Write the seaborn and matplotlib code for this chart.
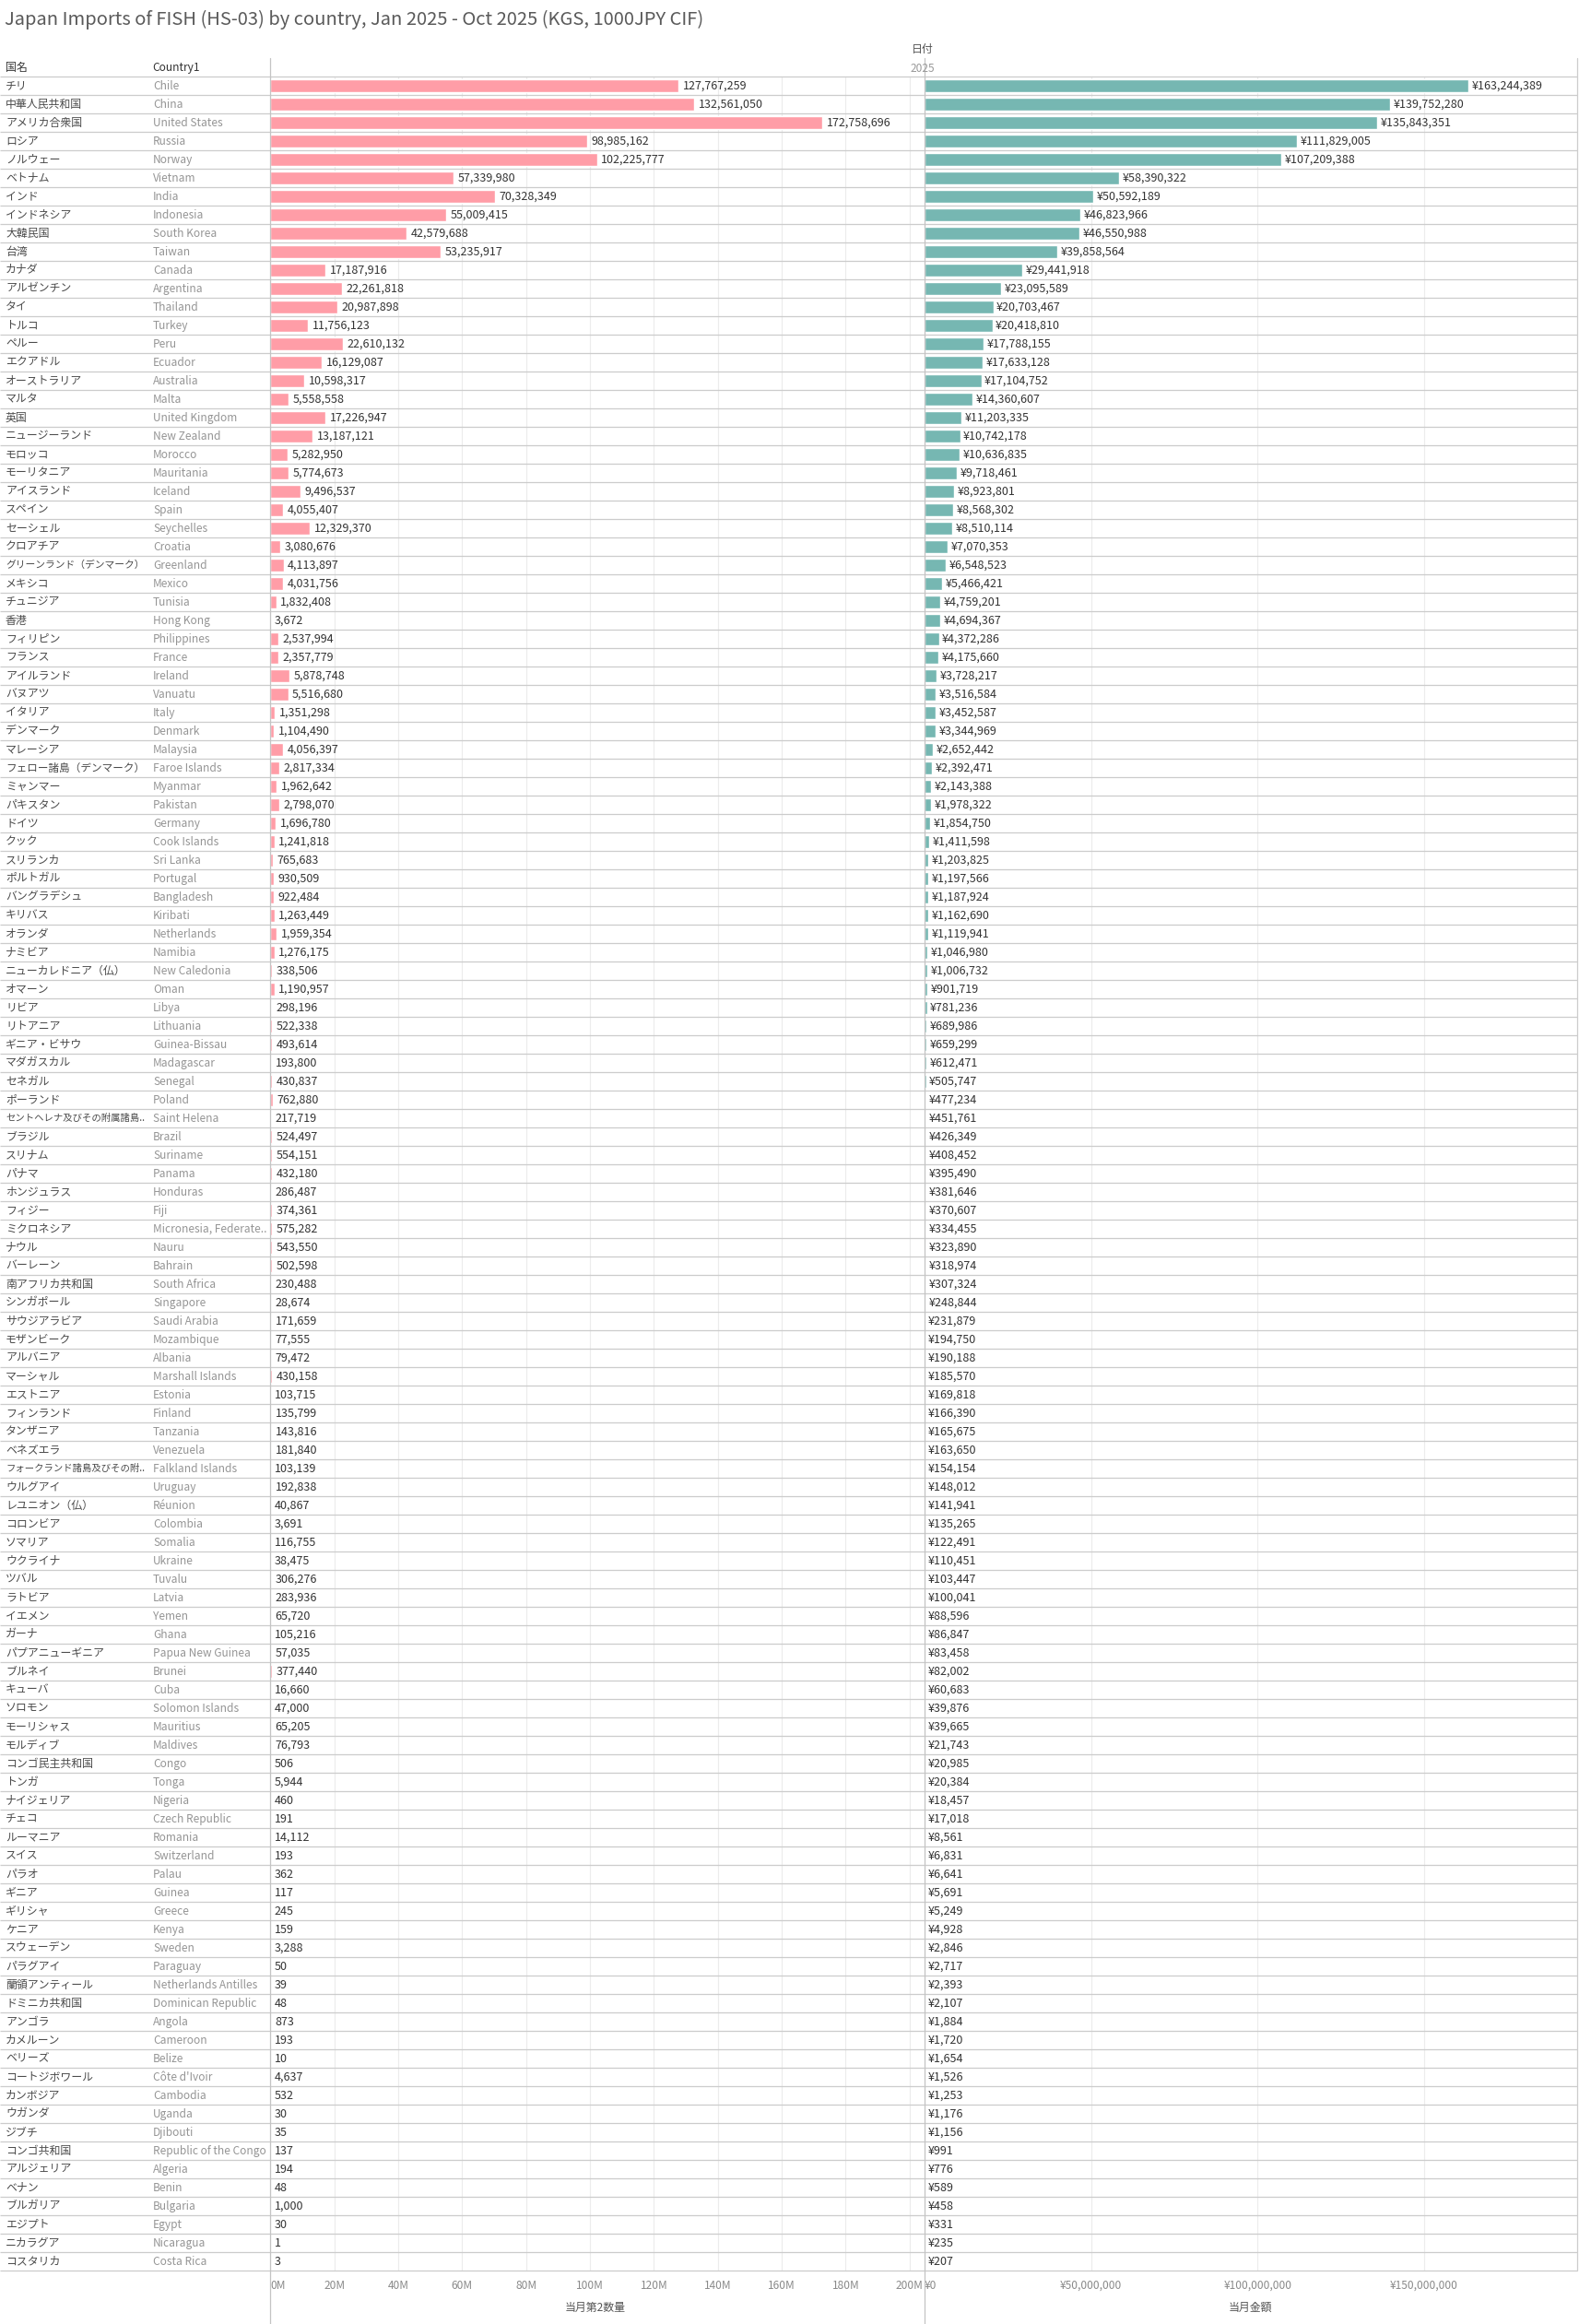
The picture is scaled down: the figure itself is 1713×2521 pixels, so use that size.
import matplotlib
matplotlib.use("Agg")
import matplotlib.pyplot as plt
import matplotlib.transforms as mtransforms
import seaborn as sns
import pandas as pd

# Data
jp_names = [
    "チリ", "中華人民共和国", "アメリカ合衆国", "ロシア", "ノルウェー", "ベトナム", "インド", "インドネシア",
    "大韓民国", "台湾", "カナダ", "アルゼンチン", "タイ", "トルコ", "ペルー", "エクアドル", "オーストラリア",
    "マルタ", "英国", "ニュージーランド", "モロッコ", "モーリタニア", "アイスランド", "スペイン", "セーシェル",
    "クロアチア", "グリーンランド（デンマーク）", "メキシコ", "チュニジア", "香港", "フィリピン", "フランス",
    "アイルランド", "バヌアツ", "イタリア", "デンマーク", "マレーシア", "フェロー諸島（デンマーク）", "ミャンマー",
    "パキスタン", "ドイツ", "クック", "スリランカ", "ポルトガル", "バングラデシュ", "キリバス", "オランダ",
    "ナミビア", "ニューカレドニア（仏）", "オマーン", "リビア", "リトアニア", "ギニア・ビサウ", "マダガスカル",
    "セネガル", "ポーランド", "セントヘレナ及びその附属諸島..", "ブラジル", "スリナム", "パナマ", "ホンジュラス",
    "フィジー", "ミクロネシア", "ナウル", "バーレーン", "南アフリカ共和国", "シンガポール", "サウジアラビア",
    "モザンビーク", "アルバニア", "マーシャル", "エストニア", "フィンランド", "タンザニア", "ベネズエラ",
    "フォークランド諸島及びその附..", "ウルグアイ", "レユニオン（仏）", "コロンビア", "ソマリア", "ウクライナ",
    "ツバル", "ラトビア", "イエメン", "ガーナ", "パプアニューギニア", "ブルネイ", "キューバ", "ソロモン",
    "モーリシャス", "モルディブ", "コンゴ民主共和国", "トンガ", "ナイジェリア", "チェコ", "ルーマニア", "スイス",
    "パラオ", "ギニア", "ギリシャ", "ケニア", "スウェーデン", "パラグアイ", "蘭領アンティール", "ドミニカ共和国",
    "アンゴラ", "カメルーン", "ベリーズ", "コートジボワール", "カンボジア", "ウガンダ", "ジブチ", "コンゴ共和国",
    "アルジェリア", "ベナン", "ブルガリア", "エジプト", "ニカラグア", "コスタリカ",
]

en_names = [
    "Chile", "China", "United States", "Russia", "Norway", "Vietnam", "India", "Indonesia",
    "South Korea", "Taiwan", "Canada", "Argentina", "Thailand", "Turkey", "Peru", "Ecuador", "Australia",
    "Malta", "United Kingdom", "New Zealand", "Morocco", "Mauritania", "Iceland", "Spain", "Seychelles",
    "Croatia", "Greenland", "Mexico", "Tunisia", "Hong Kong", "Philippines", "France",
    "Ireland", "Vanuatu", "Italy", "Denmark", "Malaysia", "Faroe Islands", "Myanmar",
    "Pakistan", "Germany", "Cook Islands", "Sri Lanka", "Portugal", "Bangladesh", "Kiribati", "Netherlands",
    "Namibia", "New Caledonia", "Oman", "Libya", "Lithuania", "Guinea-Bissau", "Madagascar",
    "Senegal", "Poland", "Saint Helena", "Brazil", "Suriname", "Panama", "Honduras",
    "Fiji", "Micronesia, Federate..", "Nauru", "Bahrain", "South Africa", "Singapore", "Saudi Arabia",
    "Mozambique", "Albania", "Marshall Islands", "Estonia", "Finland", "Tanzania", "Venezuela",
    "Falkland Islands", "Uruguay", "Réunion", "Colombia", "Somalia", "Ukraine",
    "Tuvalu", "Latvia", "Yemen", "Ghana", "Papua New Guinea", "Brunei", "Cuba", "Solomon Islands",
    "Mauritius", "Maldives", "Congo", "Tonga", "Nigeria", "Czech Republic", "Romania", "Switzerland",
    "Palau", "Guinea", "Greece", "Kenya", "Sweden", "Paraguay", "Netherlands Antilles", "Dominican Republic",
    "Angola", "Cameroon", "Belize", "Côte d'Ivoir", "Cambodia", "Uganda", "Djibouti", "Republic of the Congo",
    "Algeria", "Benin", "Bulgaria", "Egypt", "Nicaragua", "Costa Rica",
]

quantity = [
    127767259, 132561050, 172758696, 98985162, 102225777, 57339980, 70328349, 55009415,
    42579688, 53235917, 17187916, 22261818, 20987898, 11756123, 22610132, 16129087, 10598317,
    5558558, 17226947, 13187121, 5282950, 5774673, 9496537, 4055407, 12329370,
    3080676, 4113897, 4031756, 1832408, 3672, 2537994, 2357779,
    5878748, 5516680, 1351298, 1104490, 4056397, 2817334, 1962642,
    2798070, 1696780, 1241818, 765683, 930509, 922484, 1263449, 1959354,
    1276175, 338506, 1190957, 298196, 522338, 493614, 193800,
    430837, 762880, 217719, 524497, 554151, 432180, 286487,
    374361, 575282, 543550, 502598, 230488, 28674, 171659,
    77555, 79472, 430158, 103715, 135799, 143816, 181840,
    103139, 192838, 40867, 3691, 116755, 38475,
    306276, 283936, 65720, 105216, 57035, 377440, 16660, 47000,
    65205, 76793, 506, 5944, 460, 191, 14112, 193,
    362, 117, 245, 159, 3288, 50, 39, 48,
    873, 193, 10, 4637, 532, 30, 35, 137,
    194, 48, 1000, 30, 1, 3,
]

amount = [
    163244389, 139752280, 135843351, 111829005, 107209388, 58390322, 50592189, 46823966,
    46550988, 39858564, 29441918, 23095589, 20703467, 20418810, 17788155, 17633128, 17104752,
    14360607, 11203335, 10742178, 10636835, 9718461, 8923801, 8568302, 8510114,
    7070353, 6548523, 5466421, 4759201, 4694367, 4372286, 4175660,
    3728217, 3516584, 3452587, 3344969, 2652442, 2392471, 2143388,
    1978322, 1854750, 1411598, 1203825, 1197566, 1187924, 1162690, 1119941,
    1046980, 1006732, 901719, 781236, 689986, 659299, 612471,
    505747, 477234, 451761, 426349, 408452, 395490, 381646,
    370607, 334455, 323890, 318974, 307324, 248844, 231879,
    194750, 190188, 185570, 169818, 166390, 165675, 163650,
    154154, 148012, 141941, 135265, 122491, 110451,
    103447, 100041, 88596, 86847, 83458, 82002, 60683, 39876,
    39665, 21743, 20985, 20384, 18457, 17018, 8561, 6831,
    6641, 5691, 5249, 4928, 2846, 2717, 2393, 2107,
    1884, 1720, 1654, 1526, 1253, 1176, 1156, 991,
    776, 589, 458, 331, 235, 207,
]

qty_ticks = list(range(0, 200_000_001, 20_000_000))
qty_tick_labels = [f"{t // 1_000_000}M" for t in qty_ticks]
amt_ticks = [0, 50_000_000, 100_000_000, 150_000_000]
amt_tick_labels = [f"¥{t:,}" for t in amt_ticks]

title = "Japan Imports of FISH (HS-03) by country, Jan 2025 - Oct 2025 (KGS, 1000JPY CIF)"

df = pd.DataFrame({"jp": jp_names, "en": en_names, "qty": quantity, "amt": amount})

sns.set_theme(style="white")
plt.rcParams["font.family"] = ["Noto Sans CJK JP", "DejaVu Sans"]

W, H = 1713, 2521
fig = plt.figure(figsize=(W / 100, H / 100), dpi=100)

# layout in pixels
row_top, row_h = 83, 20
n = len(df)
row_bot = row_top + row_h * n
p1_left, p1_right = 293.4, 998
p2_left, p2_right = 1002.7, 1710
qty_px_per = 69.33 / 20_000_000
amt_px_per = 180.8 / 50_000_000


def fx(px):
    return px / W


def fy(py):
    return 1 - py / H


ax1 = fig.add_axes([fx(p1_left), fy(row_bot), fx(p1_right - p1_left), (row_bot - row_top) / H])
ax2 = fig.add_axes([fx(p2_left), fy(row_bot), fx(p2_right - p2_left), (row_bot - row_top) / H])

pink = "#FF9DA7"
teal = "#76B7B2"

sns.barplot(data=df, x="qty", y="en", orient="h", color=pink, width=0.74,
            errorbar=None, ax=ax1, saturation=1)
sns.barplot(data=df, x="amt", y="en", orient="h", color=teal, width=0.74,
            errorbar=None, ax=ax2, saturation=1)

ax1.set_xlim(0, (p1_right - p1_left) / qty_px_per)
ax2.set_xlim(0, (p2_right - p2_left) / amt_px_per)

for ax, ticks, labels in [(ax1, qty_ticks, qty_tick_labels), (ax2, amt_ticks, amt_tick_labels)]:
    ax.set_ylim(n - 0.5, -0.5)
    ax.set_yticks([])
    ax.set_xlabel("")
    ax.set_ylabel("")
    ax.set_xticks(ticks)
    ax.set_xticklabels(labels)
    ax.tick_params(axis="x", length=0, pad=7, labelsize=8.6, labelcolor="#8a8a8a")
    ax.grid(axis="x", color="#ececec", linewidth=0.8)
    ax.set_axisbelow(True)
    for s in ax.spines.values():
        s.set_visible(False)
    ax.patch.set_alpha(0)
    ax.get_xticklabels()[0].set_horizontalalignment("left")

# value labels
for i, (q, a) in enumerate(zip(df["qty"], df["amt"])):
    ax1.annotate(f"{q:,}", xy=(q, i), xytext=(3.3, 0), textcoords="offset points",
                 va="center", ha="left", fontsize=9, color="#333333")
    ax2.annotate(f"¥{a:,}", xy=(a, i), xytext=(2.6, 0), textcoords="offset points",
                 va="center", ha="left", fontsize=9, color="#333333")

# row headers (japanese / english names)
trans = mtransforms.blended_transform_factory(fig.transFigure, ax1.transData)
jp_texts = []
for i, (jp, en) in enumerate(zip(df["jp"], df["en"])):
    jp_texts.append(ax1.text(fx(6), i, jp, transform=trans, va="center", ha="left",
                             fontsize=8.6, color="#4a4a4a"))
    ax1.text(fx(166), i, en, transform=trans, va="center", ha="left", fontsize=8.6, color="#959595")

# japanese names are full width in this font: shrink the long ones to fit their column
renderer = fig.canvas.get_renderer()
max_w = 150
for t in jp_texts:
    w = t.get_window_extent(renderer).width
    if w > max_w:
        t.set_fontsize(8.6 * max_w / w)

# overlay for table lines and headers, in pixel coordinates
ov = fig.add_axes([0, 0, 1, 1], zorder=5)
ov.set_xlim(0, W)
ov.set_ylim(H, 0)
ov.axis("off")
ov.patch.set_alpha(0)

line_c = "#cccccc"
for k in range(n + 1):
    yy = row_top + row_h * k
    ov.plot([0, 1711], [yy, yy], color=line_c, lw=0.9, solid_capstyle="butt")
ov.plot([293, 293], [63, H], color="#c4c4c4", lw=0.9)
ov.plot([1003, 1003], [63, H], color="#c4c4c4", lw=0.9)
ov.plot([1711, 1711], [63, row_bot], color=line_c, lw=0.9)

ov.text(5, 21, title, fontsize=14.5, color="#5a5a5a", va="center", ha="left")
ov.text(6, 73, "国名", fontsize=8.6, color="#333333", va="center", ha="left")
ov.text(165, 73, "Country1", fontsize=8.6, color="#333333", va="center", ha="left")
ov.text(1001, 53, "日付", fontsize=8.6, color="#555555", va="center", ha="center")
ov.text(1001, 74, "2025", fontsize=8.6, color="#999999", va="center", ha="center")
ov.text((p1_left + p1_right) / 2, 2503, "当月第2数量", fontsize=8.6, color="#555555", va="center", ha="center")
ov.text((p2_left + p2_right) / 2, 2503, "当月金額", fontsize=8.6, color="#555555", va="center", ha="center")

fig.savefig("out.png", dpi=100, facecolor="white")
